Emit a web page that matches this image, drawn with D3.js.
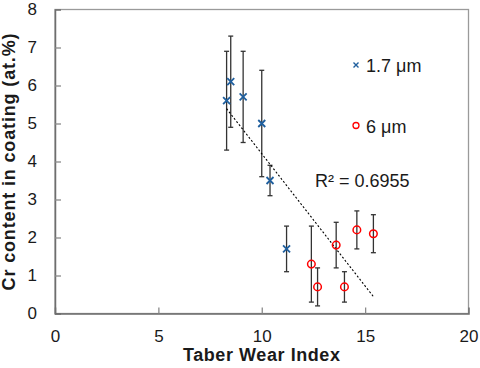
<!DOCTYPE html>
<html>
<head>
<meta charset="utf-8">
<script src="https://cdn.jsdelivr.net/npm/d3@7"></script>
<style>
  body { margin: 0; background: #fff; }
  svg { font-family: "Liberation Sans", Arial, sans-serif; }
</style>
</head>
<body>
<div id="chart"></div>
<script>
// 1.7 um coating
const thinX = [8.3, 8.5, 9.1, 10.0, 10.4, 11.2];
const thinY = [5.6, 6.1, 5.7, 5.0, 3.5, 1.7];
const thinErr = [1.3, 1.2, 1.2, 1.4, 0.4, 0.6];

// 6 um coating
const thickX = [12.4, 12.7, 13.6, 14.0, 14.6, 15.4];
const thickY = [1.3, 0.7, 1.8, 0.7, 2.2, 2.1];
const thickErr = [1.0, 0.5, 0.6, 0.4, 0.5, 0.5];

const xTicks = [0, 5, 10, 15, 20];
const yTicks = [0, 1, 2, 3, 4, 5, 6, 7, 8];
const rSquared = "0.6955";

const width = 480, height = 368;
const margin = {top: 9.5, right: 11.5, bottom: 54.5, left: 55};

const svg = d3.select("#chart").append("svg")
    .attr("width", width)
    .attr("height", height);

const x = d3.scaleLinear().domain([0, 20]).range([margin.left, width - margin.right]);
const y = d3.scaleLinear().domain([0, 8]).range([height - margin.bottom, margin.top]);

// plot frame
svg.append("rect")
    .attr("x", x(0)).attr("y", y(8))
    .attr("width", x(20) - x(0)).attr("height", y(0) - y(8))
    .attr("fill", "none").attr("stroke", "#9a9a9a").attr("stroke-width", 1.3);

// axes with inward ticks
const xAxis = svg.append("g")
    .attr("transform", "translate(0," + y(0) + ")")
    .call(d3.axisBottom(x).tickValues(xTicks).tickSize(-6).tickPadding(16.5));
const yAxis = svg.append("g")
    .attr("transform", "translate(" + x(0) + ",0)")
    .call(d3.axisLeft(y).tickValues(yTicks).tickSize(-6).tickPadding(18));

[xAxis, yAxis].forEach(g => {
    g.select(".domain").attr("stroke", "#6e6e6e").attr("stroke-width", 1.5);
    g.selectAll(".tick line").attr("stroke", "#8a8a8a").attr("stroke-width", 1.3);
    g.selectAll(".tick text")
        .attr("font-size", 17)
        .attr("fill", "#1a1a1a")
        .attr("font-family", "Liberation Sans, Arial, sans-serif");
});
xAxis.selectAll(".tick").filter(d => d === 0 || d === 20).select("line").remove();
yAxis.selectAll(".tick").filter(d => d === 0 || d === 8).select("line").remove();

// axis titles, spaced out to the widths seen in the picture
function spreadTo(sel, target) {
    const n = sel.text().length;
    const w = sel.node().getComputedTextLength();
    sel.attr("letter-spacing", ((target - w) / (n - 1)).toFixed(2));
}
const xTitle = svg.append("text")
    .attr("x", (x(0) + x(20)) / 2).attr("y", 361)
    .attr("text-anchor", "middle")
    .attr("font-size", 18).attr("font-weight", "bold").attr("fill", "#1a1a1a")
    .text("Taber Wear Index");
spreadTo(xTitle, 157);

const yTitle = svg.append("text")
    .attr("transform", "translate(14.5," + y(4) + ") rotate(-90)")
    .attr("text-anchor", "middle")
    .attr("font-size", 18).attr("font-weight", "bold").attr("fill", "#1a1a1a")
    .text("Cr content in coating (at.%)");
spreadTo(yTitle, 257);

// error bars
function errorBars(xs, ys, es) {
    const g = svg.append("g").attr("stroke", "#333").attr("stroke-width", 1.3);
    xs.forEach((xv, i) => {
        const cx = x(xv);
        const y1 = y(ys[i] + es[i]), y2 = y(ys[i] - es[i]);
        g.append("line").attr("x1", cx).attr("x2", cx).attr("y1", y1).attr("y2", y2);
        g.append("line").attr("x1", cx - 2.5).attr("x2", cx + 2.5).attr("y1", y1).attr("y2", y1);
        g.append("line").attr("x1", cx - 2.5).attr("x2", cx + 2.5).attr("y1", y2).attr("y2", y2);
    });
}
errorBars(thinX, thinY, thinErr);
errorBars(thickX, thickY, thickErr);

// linear trendline over all points
const allX = thinX.concat(thickX);
const allY = thinY.concat(thickY);
const mx = d3.mean(allX), my = d3.mean(allY);
const slope = d3.sum(allX, (v, i) => (v - mx) * (allY[i] - my)) / d3.sum(allX, v => (v - mx) * (v - mx));
const intercept = my - slope * mx;
const x0 = d3.min(allX), x1 = d3.max(allX);
svg.append("line")
    .attr("x1", x(x0)).attr("y1", y(intercept + slope * x0))
    .attr("x2", x(x1)).attr("y2", y(intercept + slope * x1))
    .attr("stroke", "#000").attr("stroke-width", 1.1)
    .attr("stroke-dasharray", "2,2");

// markers
const blue = "#1f5f9e", red = "#ff0000";
function cross(g, cx, cy, s, w) {
    g.append("path")
        .attr("d", `M${cx - s},${cy - s}L${cx + s},${cy + s}M${cx - s},${cy + s}L${cx + s},${cy - s}`)
        .attr("stroke", blue).attr("stroke-width", w).attr("fill", "none");
}
const thinG = svg.append("g");
thinX.forEach((xv, i) => cross(thinG, x(xv), y(thinY[i]), 3.5, 1.8));

svg.append("g").selectAll("circle")
    .data(thickX)
    .enter().append("circle")
    .attr("cx", d => x(d))
    .attr("cy", (d, i) => y(thickY[i]))
    .attr("r", 3.8)
    .attr("fill", "none").attr("stroke", red).attr("stroke-width", 1.5);

// legend
const legend = svg.append("g");
cross(legend, 356, 65, 2.5, 1.4);
legend.append("text").attr("x", 366).attr("y", 72)
    .attr("font-size", 18).attr("fill", "#1a1a1a").text("1.7 μm");
legend.append("circle").attr("cx", 356).attr("cy", 125.5).attr("r", 3)
    .attr("fill", "none").attr("stroke", red).attr("stroke-width", 1.3);
legend.append("text").attr("x", 366).attr("y", 132.5)
    .attr("font-size", 18).attr("fill", "#1a1a1a").text("6 μm");

svg.append("text").attr("x", 315).attr("y", 186.5)
    .attr("font-size", 18).attr("fill", "#1a1a1a")
    .text("R² = " + rSquared);
</script>
</body>
</html>
